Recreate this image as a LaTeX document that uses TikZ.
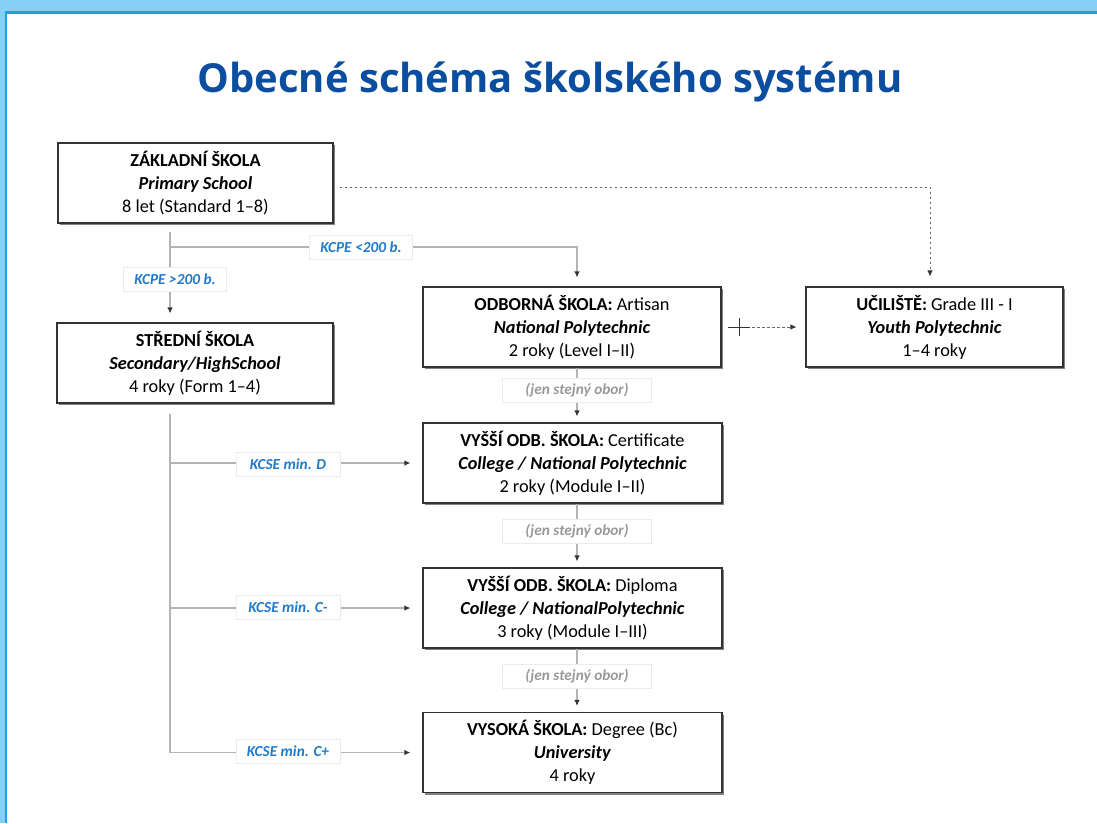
\documentclass[tikz,border=0pt]{standalone}
\usepackage{fontspec}
\setmainfont{Carlito}
\newfontfamily\titlefont{Open Sans}
\usetikzlibrary{arrows.meta,shadows}
\definecolor{titleblue}{HTML}{0B4EA0}
\definecolor{lblblue}{HTML}{1F7BCB}
\definecolor{bandlight}{HTML}{87D0F5}
\definecolor{banddark}{HTML}{1AA3E6}
\definecolor{linegray}{HTML}{B4B4B4}
\definecolor{tipgray}{HTML}{333333}
\tikzset{
  box/.style={draw=black!80, line width=1.1pt, fill=white, minimum height=80pt,
    align=center, inner sep=0pt, font=\fontsize{18.3}{23}\selectfont,
    drop shadow={fill=black!70, shadow xshift=2.2pt, shadow yshift=-2.2pt, opacity=0.7}},
  lbl/.style={fill=white, draw=black!8, line width=0.6pt, minimum height=24pt, inner sep=0pt,
    font=\fontsize{15.3}{16}\selectfont\bfseries\itshape, text=lblblue},
  grylbl/.style={lbl, text=black!40},
  line/.style={draw=linegray, line width=1.6pt},
  conn/.style={line, -{Latex[length=6pt,width=5.5pt,color=tipgray]}},
  dotconn/.style={draw=black!60, line width=0.8pt, dash pattern=on 2.5pt off 2.5pt,
    -{Latex[length=6pt,width=5.5pt,color=tipgray]}},
}
\begin{document}
\begin{tikzpicture}[x=1pt,y=-1pt]
\useasboundingbox (0,0) rectangle (1097,823);
\fill[white] (0,0) rectangle (1097,823);
% frame
\fill[bandlight] (0,0) rectangle (1097,11);
\fill[bandlight] (0,0) rectangle (5,823);
\fill[banddark] (5,11) rectangle (1097,14);
\fill[banddark] (5,11) rectangle (7,823);
% title
\node[anchor=base, font=\titlefont\bfseries\fontsize{40}{48}\selectfont, text=titleblue] (title) at (550,92) {Obecné schéma školského systému};
% boxes
\node[box, minimum width=275pt] (zs) at (195.5,183) {\textbf{ZÁKLADNÍ ŠKOLA}\\\textbf{\textit{Primary School}}\\8 let (Standard 1–8)};
\node[box, minimum width=276pt] (ss) at (195,363) {\textbf{STŘEDNÍ ŠKOLA}\\\textbf{\textit{Secondary/HighSchool}}\\4 roky (Form 1–4)};
\node[box, minimum width=298pt] (odb) at (572,327) {\textbf{ODBORNÁ ŠKOLA:} Artisan\\\textbf{\textit{National Polytechnic}}\\2 roky (Level I–II)};
\node[box, minimum width=257pt] (uc) at (934.5,327) {\textbf{UČILIŠTĚ:} Grade III - I\\\textbf{\textit{Youth Polytechnic}}\\1–4 roky};
\node[box, minimum width=299pt] (cert) at (572.5,463) {\textbf{VYŠŠÍ ODB. ŠKOLA:} Certificate\\\textbf{\textit{College / National Polytechnic}}\\2 roky (Module I–II)};
\node[box, minimum width=299pt] (dipl) at (572.5,608) {\textbf{VYŠŠÍ ODB. ŠKOLA:} Diploma\\\textbf{\textit{College / NationalPolytechnic}}\\3 roky (Module I–III)};
\node[box, minimum width=299pt] (vs) at (572.5,752.5) {\textbf{VYSOKÁ ŠKOLA:} Degree (Bc)\\\textbf{\textit{University}}\\4 roky};
% junctions
\coordinate (j1) at (170,247);
\coordinate (j2) at (577,247);
\coordinate (trunk) at (170,413);
% connectors from ZS
\draw[conn, shorten <=8pt, shorten >=9pt] (zs.south -| j1) -- (ss.north -| j1);
\draw[conn, shorten >=9pt] (j1) -- (j2) -- (j2 |- odb.north);
\draw[dotconn, shorten <=6pt, shorten >=10pt] ([yshift=-4pt]zs.east) -| ([xshift=-4.5pt]uc.north);
% odb -> uc
\coordinate (pl) at (739,327);
\draw[black!80, line width=0.8pt] ([xshift=-11pt]pl) -- ([xshift=11pt]pl);
\draw[black!80, line width=0.8pt] ([yshift=9pt]pl) -- ([yshift=-9pt]pl);
\draw[dotconn, shorten >=9pt] ([xshift=13pt]pl) -- (uc.west);
% trunk from SS
\draw[line, shorten <=10pt] (ss.south -| trunk) -- (vs.west -| trunk);
\draw[conn, shorten >=12pt] (cert.west -| trunk) -- (cert.west);
\draw[conn, shorten >=12pt] (dipl.west -| trunk) -- (dipl.west);
\draw[conn, shorten >=12pt] (vs.west -| trunk) -- (vs.west);
% vertical chain
\draw[conn, shorten >=6pt] ([xshift=5pt]odb.south) -- ([xshift=4.5pt]cert.north);
\draw[conn, shorten >=6pt] ([xshift=4.5pt]cert.south) -- ([xshift=4.5pt]dipl.north);
\draw[conn, shorten >=6pt] ([xshift=4.5pt]dipl.south) -- ([xshift=4.5pt]vs.north);
% labels
\node[lbl, minimum width=103pt] (l1) at (361,247) {KCPE <200 b.};
\node[lbl, minimum width=103pt] (l2) at (175,279) {KCPE >200 b.};
\node[lbl, minimum width=104pt] (l3) at (288,464) {KCSE min. D};
\node[lbl, minimum width=104pt] (l4) at (288,607) {KCSE min. C-};
\node[lbl, minimum width=104pt] (l5) at (288,751) {KCSE min. C+};
\node[grylbl, minimum width=149pt] (g1) at (577,390) {(jen stejný obor)};
\node[grylbl, minimum width=149pt] (g2) at (577,531) {(jen stejný obor)};
\node[grylbl, minimum width=149pt] (g3) at (577,676) {(jen stejný obor)};
\end{tikzpicture}
\end{document}
